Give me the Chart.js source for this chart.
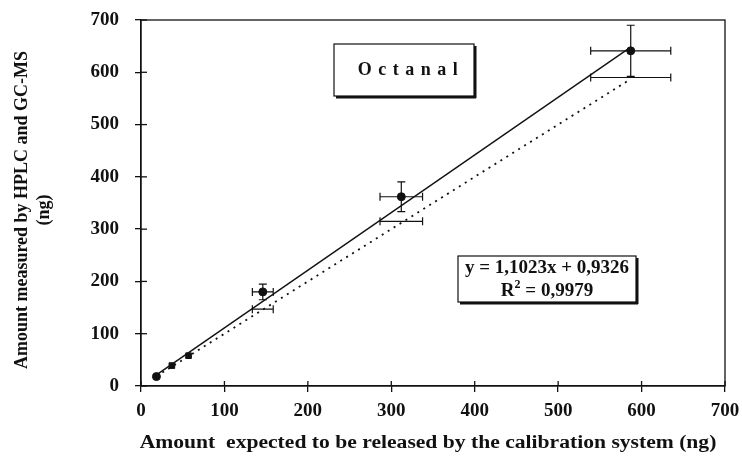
<!DOCTYPE html>
<html>
<head>
<meta charset="utf-8">
<script src="https://cdn.jsdelivr.net/npm/chart.js@4.4.1/dist/chart.umd.min.js"></script>
<style>
  html, body { margin: 0; padding: 0; background: #fff; }
  #wrap { width: 742px; height: 467px; }
</style>
</head>
<body>
<div id="wrap"><canvas id="octanal-chart" width="742" height="467"></canvas></div>
<script>
  // values
  const expected = [18.5, 37, 57, 146, 312, 587];
  const measured = [18, 39, 58, 180, 362, 641];
  const xErr = [0, 0, 0, 12.5, 25.5, 48];
  const yErr = [0, 0, 0, 15, 28.5, 49];
  const theoretical = [18.5, 37, 57, 147, 315, 590];
  const markerStyles = ["circle", "rect", "rect", "circle", "circle", "circle"];
  const xTicks = [0, 100, 200, 300, 400, 500, 600, 700];
  const yTicks = [0, 100, 200, 300, 400, 500, 600, 700];
  const slope = 1.1023;
  const intercept = 0.9326;

  const serif = "'Liberation Serif', 'Times New Roman', serif";

  const xMin = Math.min(...expected);
  const xMax = Math.max(...expected);

  const measuredPts = expected.map((x, i) => ({ x, y: measured[i] }));
  const theoPts = expected.map((x, i) => ({ x, y: theoretical[i] }));
  const fitLine = [
    { x: xMin, y: slope * xMin + intercept },
    { x: xMax, y: slope * xMax + intercept }
  ];
  const idLine = [
    { x: xMin, y: xMin },
    { x: xMax, y: xMax }
  ];

  const decorPlugin = {
    id: "decor",
    afterDatasetsDraw(chart) {
      const { ctx, chartArea: a, scales } = chart;
      const xs = scales.x, ys = scales.y;
      ctx.save();
      ctx.strokeStyle = "#111";
      ctx.fillStyle = "#111";
      ctx.lineWidth = 1.3;

      // frame
      ctx.strokeRect(a.left, a.top, a.right - a.left, a.bottom - a.top);

      // inner tick halves
      xTicks.forEach(v => {
        const px = xs.getPixelForValue(v);
        ctx.beginPath();
        ctx.moveTo(px, a.bottom);
        ctx.lineTo(px, a.bottom - 5);
        ctx.stroke();
      });
      yTicks.forEach(v => {
        const py = ys.getPixelForValue(v);
        ctx.beginPath();
        ctx.moveTo(a.left, py);
        ctx.lineTo(a.left + 6, py);
        ctx.stroke();
      });

      // error bars
      const cap = 4;
      ctx.lineWidth = 1.2;
      expected.forEach((x, i) => {
        const px = xs.getPixelForValue(x);
        const py = ys.getPixelForValue(measured[i]);
        const pyT = ys.getPixelForValue(theoretical[i]);
        if (xErr[i] > 0) {
          const l = xs.getPixelForValue(x - xErr[i]);
          const r = xs.getPixelForValue(x + xErr[i]);
          [py, pyT].forEach(yy => {
            ctx.beginPath();
            ctx.moveTo(l, yy); ctx.lineTo(r, yy);
            ctx.moveTo(l, yy - cap); ctx.lineTo(l, yy + cap);
            ctx.moveTo(r, yy - cap); ctx.lineTo(r, yy + cap);
            ctx.stroke();
          });
        }
        if (yErr[i] > 0) {
          const t = ys.getPixelForValue(measured[i] + yErr[i]);
          const b = ys.getPixelForValue(measured[i] - yErr[i]);
          ctx.beginPath();
          ctx.moveTo(px, t); ctx.lineTo(px, b);
          ctx.moveTo(px - cap, t); ctx.lineTo(px + cap, t);
          ctx.moveTo(px - cap, b); ctx.lineTo(px + cap, b);
          ctx.stroke();
        }
      });

      // text boxes
      function box(x, y, w, h) {
        ctx.fillStyle = "#fff";
        ctx.fillRect(x, y, w, h);
        ctx.fillStyle = "#111";
        ctx.fillRect(x + 2, y + h, w, 2.5);
        ctx.fillRect(x + w, y + 2, 2.5, h);
        ctx.lineWidth = 1.2;
        ctx.strokeRect(x, y, w, h);
      }
      box(334, 44, 140, 52);
      ctx.textAlign = "center";
      ctx.textBaseline = "middle";
      ctx.font = "bold 18px " + serif;
      if ("letterSpacing" in ctx) ctx.letterSpacing = "6.5px";
      ctx.fillText("Octanal", 411, 70);
      if ("letterSpacing" in ctx) ctx.letterSpacing = "0px";

      box(458, 256, 178, 46);
      ctx.font = "bold 19px " + serif;
      ctx.fillText("y = 1,1023x + 0,9326", 547, 268);
      // R² line, built from pieces so the superscript sits after R
      ctx.textAlign = "left";
      const big = "bold 19px " + serif, small = "bold 12px " + serif;
      ctx.font = big;
      const wR = ctx.measureText("R").width;
      const wRest = ctx.measureText(" = 0,9979").width;
      ctx.font = small;
      const w2 = ctx.measureText("2").width;
      let sx = 547 - (wR + w2 + wRest) / 2;
      ctx.font = big;
      ctx.fillText("R", sx, 291);
      ctx.font = small;
      ctx.fillText("2", sx + wR, 285);
      ctx.font = big;
      ctx.fillText(" = 0,9979", sx + wR + w2, 291);

      // axis titles
      ctx.textAlign = "center";
      ctx.font = "bold 18px " + serif;
      ctx.save();
      ctx.translate(428, 443);
      ctx.scale(1.2, 1);
      ctx.fillText("Amount  expected to be released by the calibration system (ng)", 0, 0);
      ctx.restore();
      ctx.save();
      ctx.translate(22, 210);
      ctx.rotate(-Math.PI / 2);
      ctx.fillText("Amount measured by HPLC and GC-MS", 0, 0);
      ctx.fillText("(ng)", 0, 22);
      ctx.restore();

      ctx.restore();
    }
  };

  new Chart(document.getElementById("octanal-chart"), {
    type: "scatter",
    data: {
      datasets: [
        {
          label: "fit",
          data: fitLine,
          showLine: true,
          borderColor: "#111",
          borderWidth: 1.4,
          pointRadius: 0
        },
        {
          label: "y = x",
          data: idLine,
          showLine: true,
          borderColor: "#111",
          borderWidth: 1.8,
          borderDash: [2, 5],
          pointRadius: 0
        },
        {
          label: "theoretical",
          data: theoPts,
          pointRadius: 0
        },
        {
          label: "measured",
          data: measuredPts,
          pointStyle: markerStyles,
          pointRadius: 4,
          backgroundColor: "#111",
          borderColor: "#111"
        }
      ]
    },
    options: {
      responsive: false,
      animation: false,
      layout: { padding: { top: 20, right: 17, left: 0, bottom: 0 } },
      plugins: {
        legend: { display: false },
        tooltip: { enabled: false }
      },
      scales: {
        x: {
          type: "linear",
          min: 0,
          max: 700,
          afterFit: s => { s.height = 81; s.paddingLeft = 0; s.paddingRight = 0; },
          afterBuildTicks: s => { s.ticks = xTicks.map(v => ({ value: v })); },
          grid: { drawOnChartArea: false, tickLength: 6, color: "#111", lineWidth: 1.3 },
          border: { display: true, color: "#111", width: 1.3 },
          ticks: {
            color: "#111",
            padding: 8,
            font: { family: serif, size: 19, weight: "bold" }
          }
        },
        y: {
          type: "linear",
          min: 0,
          max: 700,
          afterFit: s => { s.width = 141; s.paddingTop = 0; s.paddingBottom = 0; },
          afterBuildTicks: s => { s.ticks = yTicks.map(v => ({ value: v })); },
          grid: { drawOnChartArea: false, tickLength: 6, color: "#111", lineWidth: 1.3 },
          border: { display: true, color: "#111", width: 1.3 },
          ticks: {
            color: "#111",
            padding: 16,
            font: { family: serif, size: 19, weight: "bold" }
          }
        }
      }
    },
    plugins: [decorPlugin]
  });
</script>
</body>
</html>
